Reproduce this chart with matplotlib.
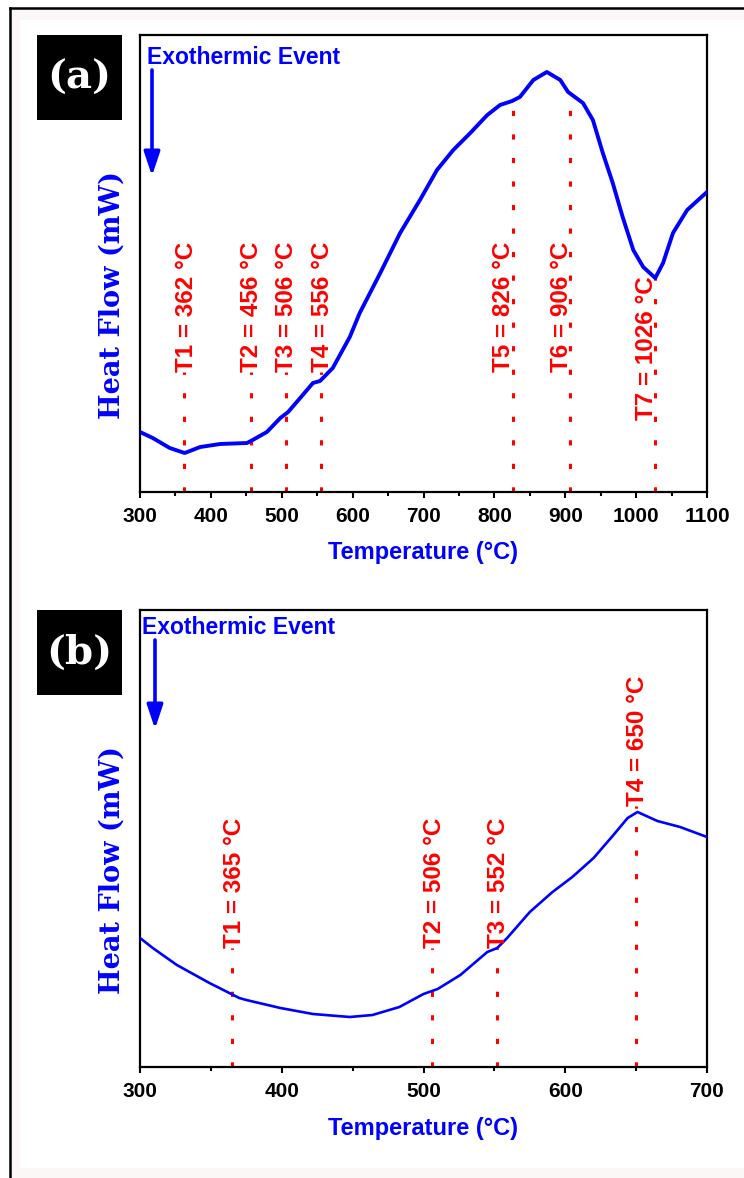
import matplotlib.pyplot as plt
from matplotlib.patches import Rectangle
from matplotlib.lines import Line2D
import numpy as np

# panel (a): heat flow vs temperature (arbitrary units)
temp_a = [300, 318, 342, 363, 385, 413, 451, 459, 479, 498, 509, 526, 544, 554, 572, 596,
          610, 639, 667, 695, 719, 742, 766, 790, 808, 825, 836, 855, 874, 893, 904, 925,
          939, 953, 967, 981, 996, 1010, 1027, 1038, 1052, 1072, 1100]
flow_a = [0.60, 0.54, 0.44, 0.39, 0.45, 0.48, 0.49, 0.52, 0.60, 0.74, 0.80, 0.94, 1.09, 1.11, 1.24, 1.55,
          1.79, 2.19, 2.59, 2.92, 3.22, 3.42, 3.59, 3.77, 3.87, 3.91, 3.95, 4.12, 4.20, 4.12, 4.00, 3.89,
          3.72, 3.39, 3.09, 2.75, 2.42, 2.25, 2.14, 2.29, 2.59, 2.82, 3.00]
events_a = [362, 456, 506, 556, 826, 906, 1026]
names_a = ["T1", "T2", "T3", "T4", "T5", "T6", "T7"]
label_base_a = [1.20, 1.20, 1.20, 1.20, 1.20, 1.20, 0.72]
label_shift_a = [2, 1, 0, 1, -7, -6, -6]

# panel (b)
temp_b = [300, 309, 326, 349, 370, 375, 399, 422, 448, 464, 483, 500, 510, 526, 545, 552,
          559, 575, 591, 605, 620, 634, 644, 651, 665, 681, 700]
flow_b = [1.29, 1.19, 1.02, 0.84, 0.69, 0.67, 0.59, 0.53, 0.50, 0.52, 0.60, 0.73, 0.78, 0.92, 1.15, 1.19,
          1.29, 1.55, 1.75, 1.90, 2.09, 2.32, 2.49, 2.55, 2.46, 2.40, 2.30]
events_b = [365, 506, 552, 650]
names_b = ["T1", "T2", "T3", "T4"]
label_base_b = [1.19, 1.19, 1.19, 2.61]
label_shift_b = [2, 2, 1, 1]

W, H = 744, 1178
BLUE = "#0000ff"
RED = "#ff0000"
PINK = "#fcf7f7"
sans = ["Liberation Sans", "DejaVu Sans"]


def fx(px):
    return px / W


def fy(py):
    return 1 - py / H


fig = plt.figure(figsize=(W / 100, H / 100), dpi=100)

# outer frame of the screenshot: thin pinkish bands inside a black border
for x0, y0, x1, y1 in [(10, 8, 20, H), (10, 8, W, 20), (10, 1168, W, H)]:
    fig.add_artist(Rectangle((fx(x0), fy(y1)), fx(x1 - x0), (y1 - y0) / H,
                             transform=fig.transFigure, facecolor=PINK, edgecolor="none", zorder=-5))
fig.add_artist(Line2D([fx(10), fx(10)], [0, fy(8)], transform=fig.transFigure, color="black", lw=1.8))
fig.add_artist(Line2D([fx(10), 1], [fy(8), fy(8)], transform=fig.transFigure, color="black", lw=1.8))


def panel(top_px, temps, flows, events, names, bases, shifts, xmax, lw, tag, exo_y, arrow):
    ax = fig.add_axes([fx(140), fy(top_px + 457), fx(567), 457 / H])
    ax.plot(temps, flows, color=BLUE, lw=lw, solid_joinstyle="round", zorder=3)
    for t, n, b, s in zip(events, names, bases, shifts):
        top = max(np.interp(t, temps, flows), b)
        ax.plot([t, t], [0, top], color=RED, lw=2.2, dashes=(1.7, 6.0),
                dash_capstyle="butt", zorder=2)
        ax.annotate(f"{n} = {t} \u00b0C", xy=(t, b), xytext=(s, 0), textcoords="offset points",
                    rotation=90, ha="center", va="bottom", color=RED, fontsize=17.5,
                    fontweight="bold", family=sans)
    ax.set_xlim(300, xmax)
    ax.set_ylim(0, 4.57)
    ax.set_yticks([])
    ax.set_xticks(np.arange(300, xmax + 1, 100))
    ax.set_xticks(np.arange(350, xmax, 100), minor=True)
    ax.tick_params(axis="x", which="major", direction="out", length=4.5, width=1.5, pad=6)
    ax.tick_params(axis="x", which="minor", direction="out", length=3, width=1.5)
    for lab in ax.get_xticklabels():
        lab.set_family(sans)
        lab.set_fontweight("bold")
        lab.set_fontsize(15)
    for sp in ax.spines.values():
        sp.set_linewidth(1.6)

    # x label, y label
    fig.text(fx(423.5), fy(top_px + 518), "Temperature (\u00b0C)", color=BLUE,
             fontsize=17, fontweight="bold", family=sans, ha="center", va="center")
    fig.text(fx(112), fy(top_px + 260), "Heat Flow (mW)", color=BLUE, rotation=90,
             fontsize=19.5, fontweight="bold", family="DejaVu Serif", ha="center", va="center")

    # exothermic arrow and text
    fig.text(fx(exo_y[0]), fy(exo_y[1]), "Exothermic Event", color=BLUE, fontsize=16.5,
             fontweight="bold", family=sans, ha="left", va="baseline")
    fig.add_artist(plt.Annotation("", xy=(fx(arrow[0]), fy(arrow[2])),
                                  xytext=(fx(arrow[0]), fy(arrow[1])),
                                  xycoords="figure fraction", textcoords="figure fraction",
                                  arrowprops=dict(arrowstyle="-|>,head_length=0.6,head_width=0.2",
                                                  mutation_scale=24, color=BLUE, lw=2.6,
                                                  shrinkA=0, shrinkB=0)))

    # black panel tag
    fig.add_artist(Rectangle((fx(37), fy(top_px + 85)), fx(85), 85 / H,
                             transform=fig.transFigure, facecolor="black", edgecolor="none"))
    fig.text(fx(79.5), fy(top_px + 43), tag, color="white", fontsize=29, fontweight="bold",
             family="DejaVu Serif", ha="center", va="center")
    return ax


panel(35, temp_a, flow_a, events_a, names_a, label_base_a, label_shift_a, 1100, 2.8, "(a)",
      (147, 64), (152, 70, 176))
panel(610, temp_b, flow_b, events_b, names_b, label_base_b, label_shift_b, 700, 1.9, "(b)",
      (142, 634), (155, 640, 729))

fig.savefig("out.png", dpi=100)
